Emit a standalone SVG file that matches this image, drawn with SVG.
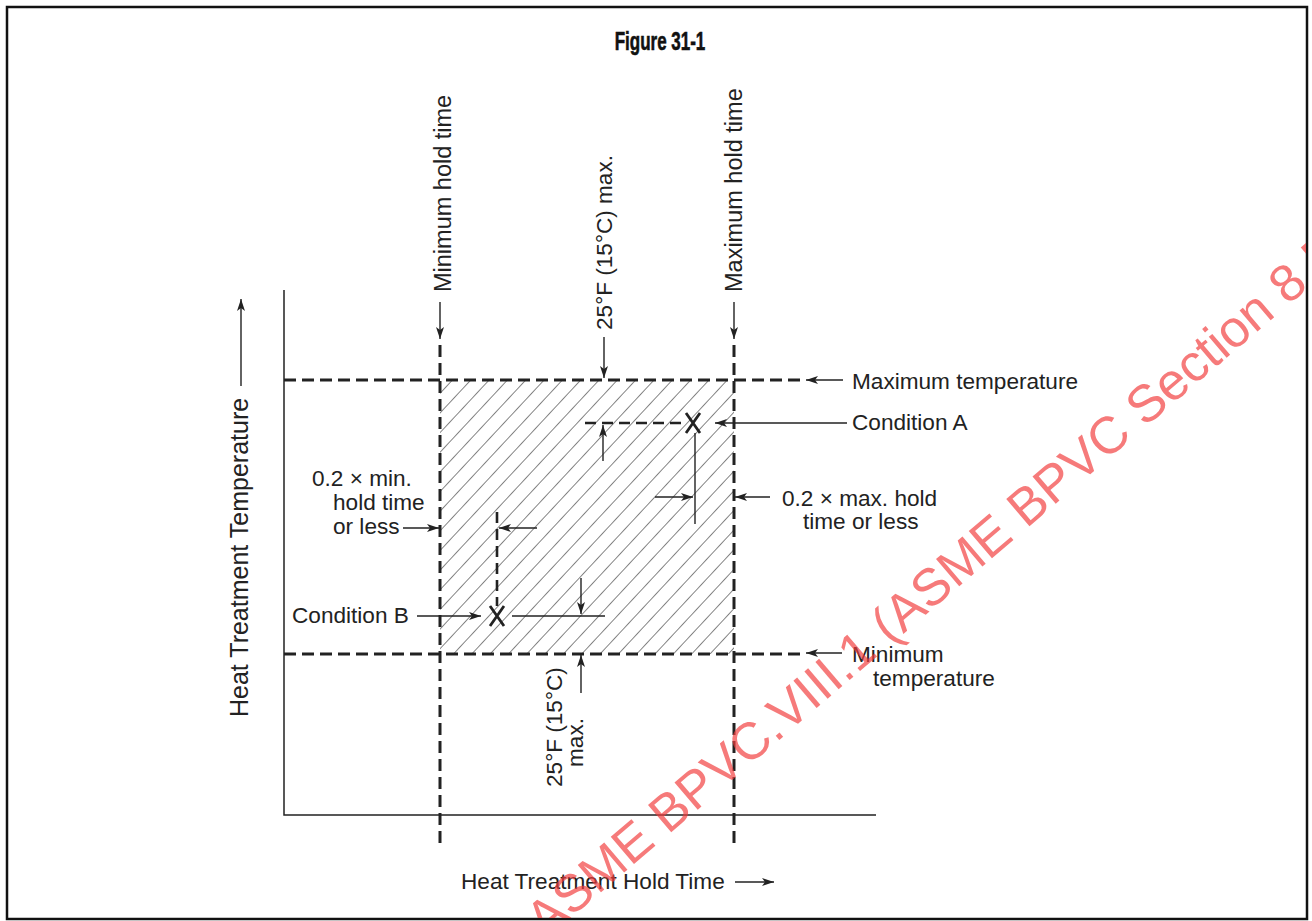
<svg xmlns="http://www.w3.org/2000/svg" width="1312" height="921" viewBox="0 0 1312 921">
  <style>
    text { font-family: "Liberation Sans", Arial, sans-serif; font-size: 22.6px; fill: #222; }
    .vert { font-size: 23.5px; }
    .axisLabel { font-size: 25px; }
    .title { font-family: "Liberation Sans", Arial, sans-serif; font-weight: bold; font-size: 25px; fill: #111; stroke: #111; stroke-width: 0.6; }
    .axis { stroke: #222; stroke-width: 1.5; fill: none; }
    .limit { stroke: #222; stroke-width: 3; stroke-dasharray: 12 6; fill: none; }
    .trace { stroke: #222; stroke-width: 2.6; stroke-dasharray: 11 6; fill: none; }
    .lead { stroke: #222; stroke-width: 1.4; fill: none; }
    .arr { stroke: #222; stroke-width: 1.4; fill: none; marker-end: url(#head); }
    .cross { stroke: #222; stroke-width: 2.8; fill: none; }
    .mark { font-family: "Liberation Sans", Arial, sans-serif; font-size: 52px; fill: #f23c3c; opacity: 0.68; }
  </style>
  <defs>
    <marker id="head" markerUnits="userSpaceOnUse" markerWidth="14" markerHeight="10" refX="12" refY="4" orient="auto">
      <path d="M0,0 L12,4 L0,8 L3,4 z" fill="#222"/>
    </marker>
    <pattern id="hatch" patternUnits="userSpaceOnUse" width="13.4" height="20" patternTransform="rotate(43)">
      <line x1="0" y1="-2" x2="0" y2="22" stroke="#222" stroke-width="1.1"/>
    </pattern>
    <clipPath id="zoneClip">
      <rect x="440" y="380" width="294" height="274"/>
    </clipPath>
    <clipPath id="frameClip">
      <rect x="8" y="8" width="1298" height="910"/>
    </clipPath>
  </defs>

  <!-- frame -->
  <rect id="frame" x="7" y="7" width="1300" height="912" fill="#fff" stroke="#111" stroke-width="2.5"/>

  <text class="title" transform="translate(660,50) scale(0.68,1)" text-anchor="middle">Figure 31-1</text>

  <!-- acceptable hold-time / temperature zone -->
  <g id="zone">
    <rect x="440" y="380" width="294" height="274" fill="url(#hatch)" clip-path="url(#zoneClip)"/>
  </g>

  <!-- axes -->
  <g id="axes">
    <polyline class="axis" points="284,290 284,815 876,815"/>
  </g>

  <!-- limit lines -->
  <g id="limits">
    <line class="limit" x1="284" y1="380" x2="802" y2="380"/>
    <line class="limit" x1="284" y1="654" x2="802" y2="654"/>
    <line class="limit" x1="440" y1="345" x2="440" y2="848"/>
    <line class="limit" x1="734" y1="345" x2="734" y2="848"/>
  </g>

  <!-- condition A -->
  <g id="conditionA">
    <line class="trace" x1="585" y1="423" x2="682" y2="423"/>
    <path class="cross" d="M686,413 L700,433 M700,413 L686,433"/>
    <line class="lead" x1="695" y1="433" x2="695" y2="524"/>
  </g>

  <!-- condition B -->
  <g id="conditionB">
    <line class="trace" x1="497" y1="512" x2="497" y2="606"/>
    <path class="cross" d="M490,606 L504,626 M504,606 L490,626"/>
    <line class="lead" x1="512" y1="616" x2="605" y2="616"/>
  </g>

  <!-- connectors -->
  <g id="connectors">
    <line class="arr" x1="440" y1="302" x2="440" y2="339"/>
    <line class="arr" x1="734" y1="302" x2="734" y2="339"/>
    <line class="arr" x1="604" y1="337" x2="604" y2="378"/>
    <line class="arr" x1="843" y1="380" x2="806" y2="380"/>
    <line class="arr" x1="847" y1="423" x2="715" y2="423"/>
    <line class="arr" x1="603" y1="461" x2="603" y2="425"/>
    <line class="arr" x1="655" y1="497" x2="693" y2="497"/>
    <line class="arr" x1="770" y1="497" x2="735" y2="497"/>
    <line class="arr" x1="403" y1="528" x2="439" y2="528"/>
    <line class="arr" x1="537" y1="528" x2="499" y2="528"/>
    <line class="arr" x1="417" y1="616" x2="481" y2="616"/>
    <line class="arr" x1="581" y1="578" x2="581" y2="614"/>
    <line class="arr" x1="581" y1="693" x2="581" y2="655"/>
    <line class="arr" x1="842" y1="653" x2="806" y2="653"/>
    <line class="arr" x1="241" y1="386" x2="241" y2="299"/>
    <line class="arr" x1="735" y1="882" x2="774" y2="882"/>
  </g>

  <!-- labels -->
  <g id="labels">
    <text class="vert" transform="translate(451,292) rotate(-90)">Minimum hold time</text>
    <text class="vert" transform="translate(742,292) rotate(-90)">Maximum hold time</text>
    <text transform="translate(612,330) rotate(-90)">25°F (15°C) max.</text>
    <text transform="translate(562,787) rotate(-90)">25°F (15°C)</text>
    <text transform="translate(583,767) rotate(-90)">max.</text>
    <text class="axisLabel" transform="translate(248,717) rotate(-90)">Heat Treatment Temperature</text>
    <text x="852" y="389">Maximum temperature</text>
    <text x="852" y="430">Condition A</text>
    <text x="782" y="506">0.2 × max. hold</text>
    <text x="803" y="529">time or less</text>
    <text x="312" y="486">0.2 × min.</text>
    <text x="333" y="510">hold time</text>
    <text x="333" y="534">or less</text>
    <text x="292" y="623">Condition B</text>
    <text x="852" y="662">Minimum</text>
    <text x="873" y="686">temperature</text>
    <text x="461" y="889">Heat Treatment Hold Time</text>
  </g>

  <!-- licence stamp -->
  <g clip-path="url(#frameClip)">
    <text class="mark" transform="translate(545,940) rotate(-40.5)">ASME BPVC.VIII.1 (ASME BPVC Section 8 D</text>
  </g>
</svg>
